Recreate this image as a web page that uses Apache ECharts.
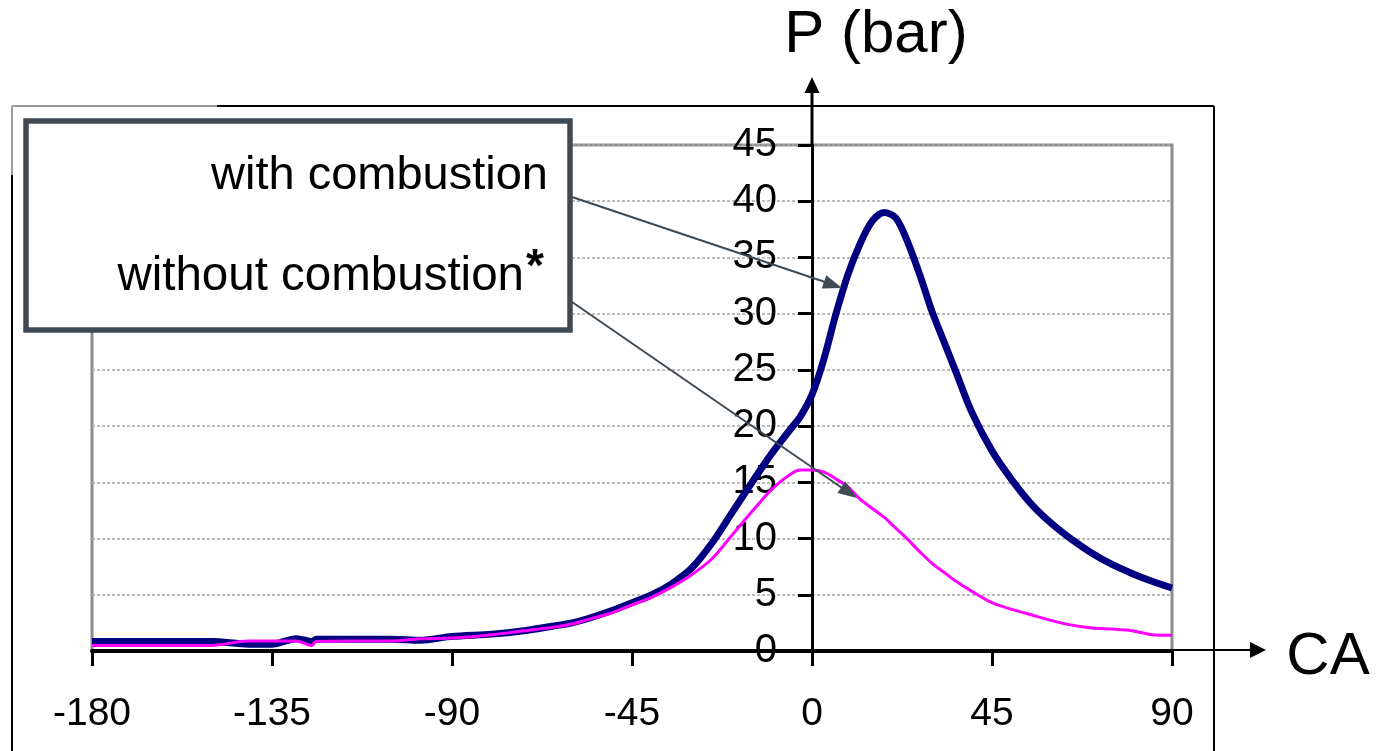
<!DOCTYPE html>
<html>
<head>
<meta charset="utf-8">
<script src="https://cdn.jsdelivr.net/npm/echarts@6/dist/echarts.min.js"></script>
<style>
html,body{margin:0;padding:0;background:#fff;}
#chart{width:1379px;height:751px;}
</style>
</head>
<body>
<div id="chart"></div>
<script>
// Crank angle (deg)
const ca = [-180,-170,-160,-150,-141,-135,-129,-126,-125,-124,-115,-105,-98,-90,-80,-72,-65,-60,-55,-50,-45,-40,-35,-30,-25,-20,-15,-10,-5,-3,0,3,6,9,12,15,18,21,24,27,30,33,36,40,45,50,55,60,65,70,75,80,85,90];
// Pressure with combustion (bar)
const pWith = [0.85,0.85,0.85,0.85,0.6,0.6,1.1,0.9,0.8,1.05,1.05,1.05,0.95,1.3,1.5,1.8,2.2,2.5,3.0,3.6,4.3,5.0,6.0,7.4,9.6,12.3,15.0,17.6,19.9,20.8,22.8,26.0,30.0,33.5,36.2,38.2,39.0,38.5,36.3,33.4,30.2,27.5,24.8,21.2,17.8,15.2,13.0,11.3,9.9,8.7,7.7,6.9,6.2,5.6];
// Pressure without combustion (bar)
const pWithout = [0.5,0.5,0.5,0.5,0.9,0.9,0.9,0.55,0.5,0.85,0.9,0.9,1.1,1.15,1.45,1.8,2.1,2.4,2.9,3.4,4.1,4.8,5.7,6.8,8.2,10.3,12.4,14.4,15.8,16.1,16.1,15.9,15.3,14.6,13.5,12.7,11.9,10.9,9.9,8.8,7.8,7.0,6.2,5.3,4.3,3.7,3.2,2.7,2.3,2.05,1.95,1.8,1.45,1.4];
const xTicks = [-180,-135,-90,-45,0,45,90];
const yTicks = [0,5,10,15,20,25,30,35,40,45];
const legendLabels = ['with combustion','without combustion'];

const FONT = 'Liberation Sans, Arial, sans-serif';
const GRID = {left:92,right:207,top:145,bottom:100};
const gridWidth = 1379-GRID.left-GRID.right;
const xMin = xTicks[0], xMax = xTicks[xTicks.length-1];
// y axis crosses at CA = 0
const yAxisOffset = -((0 - xMin)/(xMax - xMin))*gridWidth;

const chart = echarts.init(document.getElementById('chart'), null, {renderer:'canvas'});

chart.setOption({
  animation:false,
  backgroundColor:'#fff',
  grid:Object.assign({show:true,borderColor:'#8c8c8c',borderWidth:3,containLabel:false,outerBoundsMode:'none'},GRID),
  xAxis:{
    type:'value',min:xMin,max:xMax,interval:45,
    axisLine:{show:true,onZero:false,lineStyle:{color:'#000',width:4}},
    axisTick:{show:true,length:15,lineStyle:{color:'#000',width:3}},
    axisLabel:{margin:44,fontSize:39,color:'#000',fontFamily:FONT,showMinLabel:true,showMaxLabel:true},
    splitLine:{show:false}
  },
  yAxis:{
    type:'value',min:yTicks[0],max:yTicks[yTicks.length-1],interval:5,
    position:'left',offset:yAxisOffset,
    axisLine:{show:true,onZero:false,lineStyle:{color:'#000',width:3}},
    axisTick:{show:true,length:14,lineStyle:{color:'#000',width:3}},
    axisLabel:{margin:35,fontSize:40,color:'#000',fontFamily:FONT,showMinLabel:true,showMaxLabel:true},
    splitLine:{show:true,lineStyle:{color:'#a8a8a8',width:1.5,type:[3,2]}}
  },
  series:[
    {name:legendLabels[0],type:'line',showSymbol:false,smooth:0.3,
     data:ca.map((c,i)=>[c,pWith[i]]),
     lineStyle:{color:'#000080',width:7},z:3},
    {name:legendLabels[1],type:'line',showSymbol:false,smooth:0.3,
     data:ca.map((c,i)=>[c,pWithout[i]]),
     lineStyle:{color:'#ff00ff',width:3},z:4}
  ]
});

// decorations
const origin = chart.convertToPixel({gridIndex:0},[0,0]);
const top45 = chart.convertToPixel({gridIndex:0},[0,45]);
const right90 = chart.convertToPixel({gridIndex:0},[90,0]);

function arrowHead(tip, from, len, half, color){
  const dx = tip[0]-from[0], dy = tip[1]-from[1];
  const d = Math.sqrt(dx*dx+dy*dy);
  const ux = dx/d, uy = dy/d;
  const bx = tip[0]-ux*len, by = tip[1]-uy*len;
  return {type:'polygon',shape:{points:[tip,[bx-uy*half,by+ux*half],[bx+uy*half,by-ux*half]]},style:{fill:color},z:100};
}
const ANN = '#3f4a55';
const a1from=[572,197], a1tip=[842,288];
const a2from=[572,302], a2tip=[857,498];
const yArrowTip=[origin[0],77];
const xArrowTip=[1266,origin[1]-1];

chart.setOption({graphic:[
  // outer frame
  {type:'line',shape:{x1:12,y1:106,x2:217,y2:106},style:{stroke:'#9a9a9a',lineWidth:2},z:90},
  {type:'line',shape:{x1:217,y1:106,x2:1214,y2:106},style:{stroke:'#000',lineWidth:2},z:90},
  {type:'line',shape:{x1:12,y1:106,x2:12,y2:175},style:{stroke:'#9a9a9a',lineWidth:2},z:90},
  {type:'line',shape:{x1:12,y1:175,x2:12,y2:760},style:{stroke:'#000',lineWidth:2},z:90},
  {type:'line',shape:{x1:1214,y1:106,x2:1214,y2:760},style:{stroke:'#000',lineWidth:2},z:90},
  // y axis extension + arrow
  {type:'line',shape:{x1:origin[0],y1:top45[1],x2:origin[0],y2:yArrowTip[1]+12},style:{stroke:'#000',lineWidth:3},z:95},
  arrowHead(yArrowTip,[origin[0],top45[1]],16,7.5,'#000'),
  // x axis extension + arrow
  {type:'line',shape:{x1:origin[0],y1:origin[1]-1,x2:xArrowTip[0]-12,y2:origin[1]-1},style:{stroke:'#000',lineWidth:2},z:95},
  arrowHead(xArrowTip,[right90[0],origin[1]-1],16,8,'#000'),
  // axis titles
  {type:'text',x:876,y:35,style:{text:'P (bar)',font:'60px '+FONT,fill:'#000',textAlign:'center',textVerticalAlign:'middle'},z:100},
  {type:'text',x:1328,y:657,style:{text:'CA',font:'60px '+FONT,fill:'#000',textAlign:'center',textVerticalAlign:'middle'},z:100},
  // legend box
  {type:'rect',shape:{x:26,y:121,width:544,height:209},style:{fill:'#fff',stroke:ANN,lineWidth:5.5},z:110},
  {type:'text',x:548,y:176,style:{text:legendLabels[0],font:'47px '+FONT,fill:'#000',textAlign:'right',textVerticalAlign:'middle'},z:111},
  {type:'text',x:524,y:277,style:{text:legendLabels[1],font:'47.5px '+FONT,fill:'#000',textAlign:'right',textVerticalAlign:'middle'},z:111},
  {type:'text',x:526,y:268,style:{text:'*',font:'bold 46px '+FONT,fill:'#000',textAlign:'left',textVerticalAlign:'middle'},z:111},
  // annotation arrows
  {type:'line',shape:{x1:a1from[0],y1:a1from[1],x2:a1tip[0]-14,y2:a1tip[1]-5},style:{stroke:ANN,lineWidth:2},z:100},
  arrowHead(a1tip,a1from,19,7,ANN),
  {type:'line',shape:{x1:a2from[0],y1:a2from[1],x2:a2tip[0]-12,y2:a2tip[1]-8},style:{stroke:ANN,lineWidth:2},z:100},
  arrowHead(a2tip,a2from,19,7,ANN)
]});
</script>
</body>
</html>
